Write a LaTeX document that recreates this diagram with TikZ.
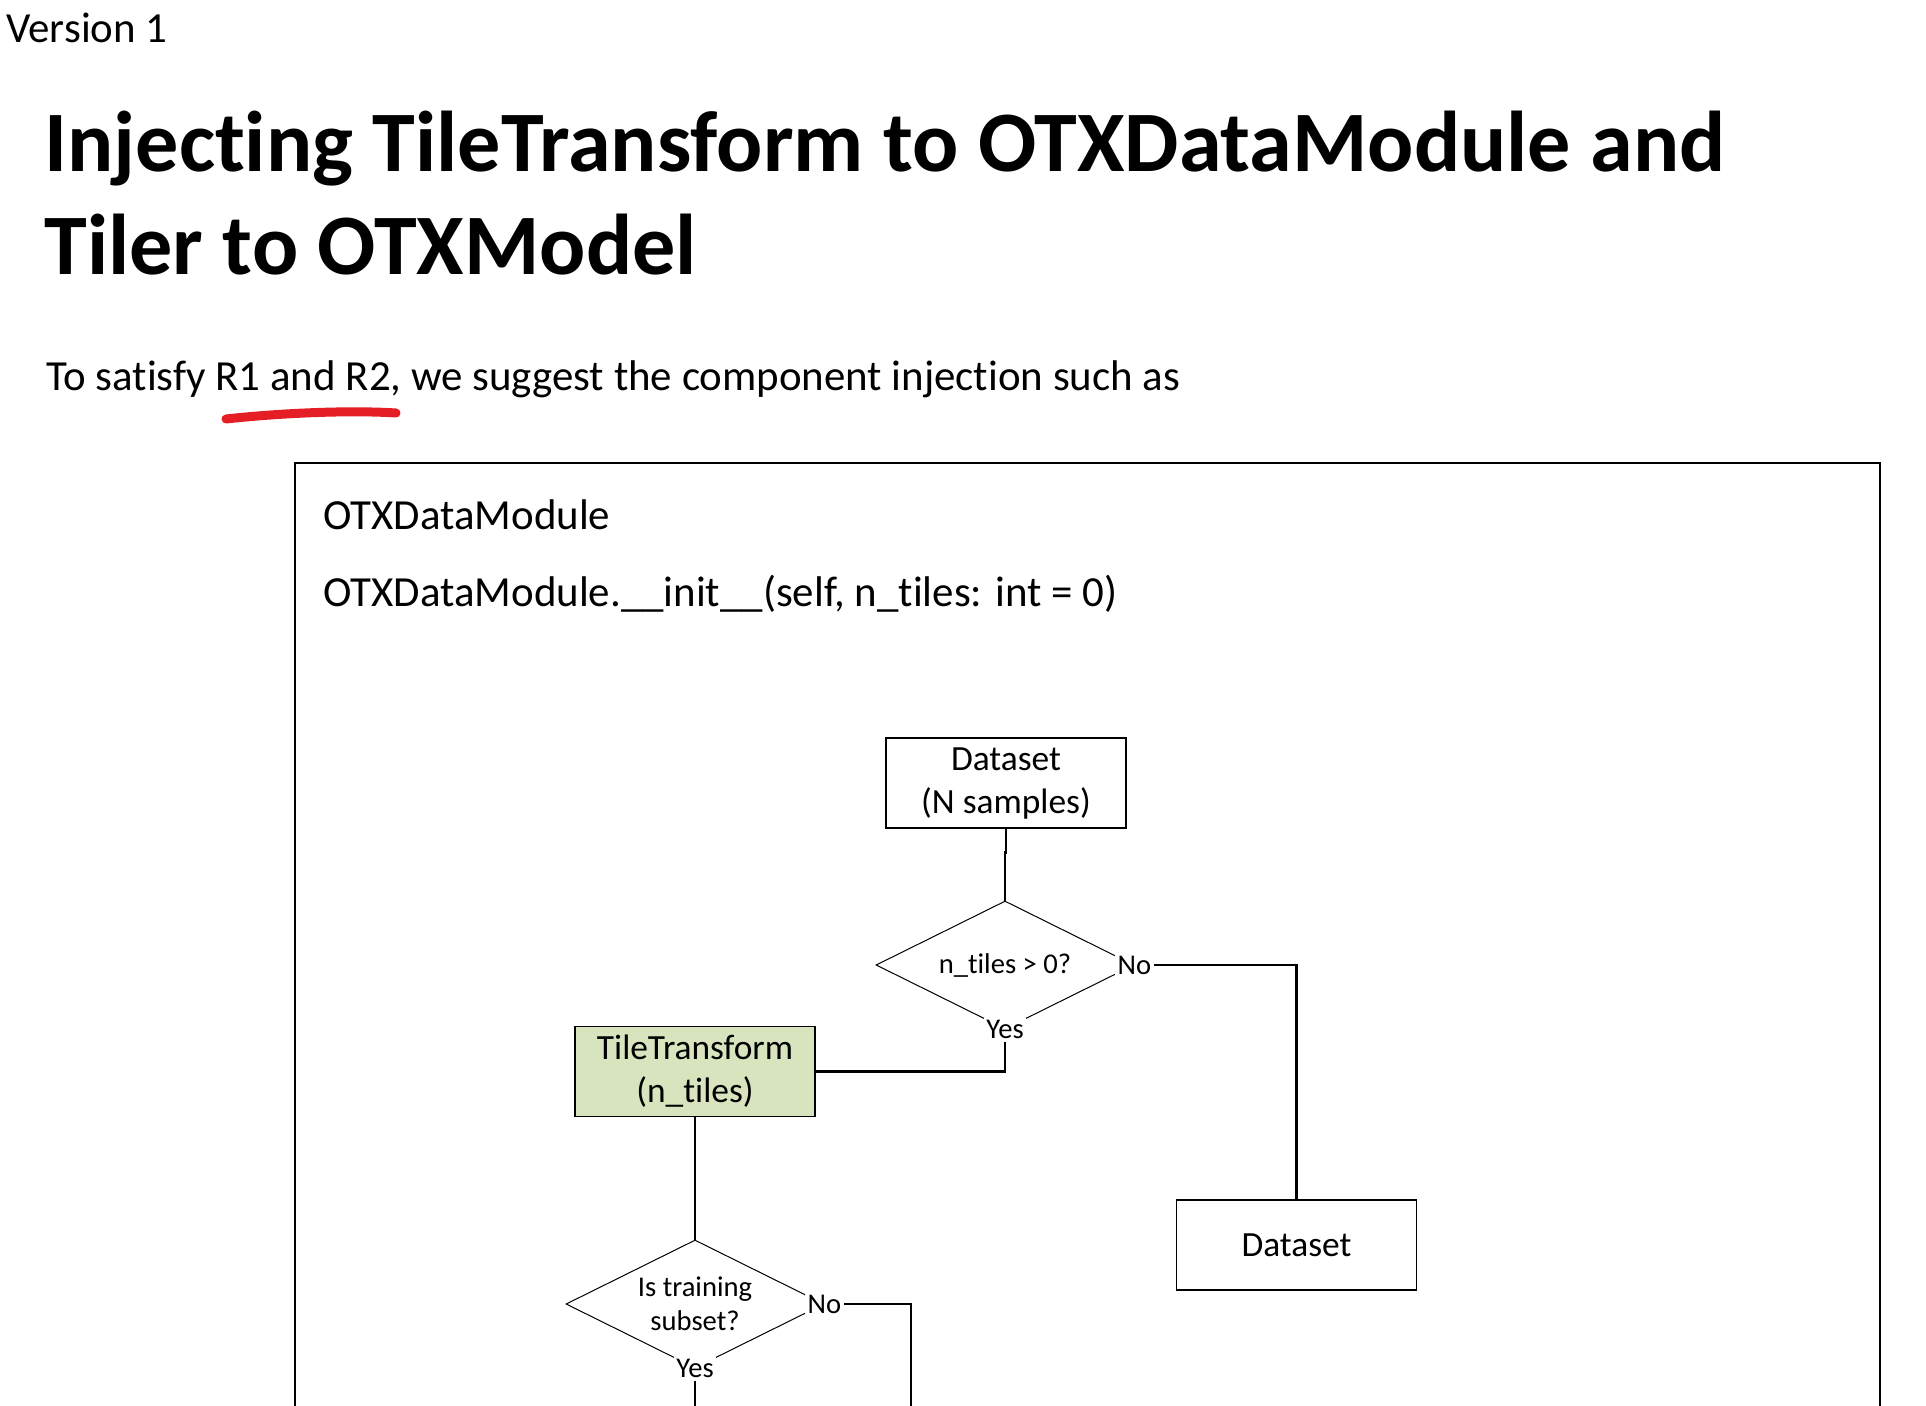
\documentclass[tikz,border=0pt]{standalone}
\usepackage{fontspec}
\setmainfont{Carlito}[Ligatures=NoCommon]
\usetikzlibrary{shapes.geometric}
\definecolor{penred}{RGB}{228,30,36}
\definecolor{tilegreen}{HTML}{D7E4BD}
\tikzset{
  bodytext/.style={anchor=base west, inner sep=0pt, font=\fontsize{21.45}{25.5}\selectfont},
  titletext/.style={anchor=base west, inner sep=0pt, font=\fontsize{43.1}{51.5}\selectfont\bfseries},
  procbox/.style={draw, line width=0.65pt, minimum width=120pt, minimum height=45pt, inner sep=0pt,
    align=center, font=\fontsize{17.7}{21.5}\selectfont},
  decide/.style={draw, diamond, shape aspect=2, line width=0.5pt, minimum width=129pt, minimum height=64pt, inner sep=0pt,
    align=center, font=\fontsize{14.3}{17}\selectfont},
  branch/.style={fill=white, inner sep=1.2pt, font=\fontsize{14.3}{17}\selectfont},
  conn/.style={line width=1.35pt},
  frame/.style={line width=0.7pt}
}
\begin{document}
\begin{tikzpicture}[x=0.5pt,y=-0.5pt]
\useasboundingbox (0,0) rectangle (1926,1406);
% header texts
\node[bodytext] (ver) at (6,43) {Version 1};
\node[titletext] (title1) at (44,172) {Injecting TileTransform to OTXDataModule and};
\node[titletext] (title2) at (44,275) {Tiler to OTXModel};
\node[bodytext] (intro) at (46,391) {To satisfy R1 and R2, we suggest the component injection such as};
\draw[penred, line width=4.5pt, line cap=round] (226,419) .. controls (280,413) and (350,410) .. (396,413);
% frame
\coordinate (fbl) at (295,1412);
\coordinate (fbr) at (1880,1412);
\draw[frame] (fbl) |- (1880,463) -- (fbr);
\node[bodytext] (dmname) at (323,530) {OTXDataModule};
\node[bodytext] (dminit) at (323,606) {OTXDataModule.\_\_init\_\_(self, n\_tiles: int = 0)};
% flow
\node[procbox] (ds1) at (1006,783) {Dataset\\(N samples)};
\node[decide] (d1) at (1005,965) {n\_tiles > 0?};
\node[branch] (no1) at (d1.east) {No};
\node[branch] (yes1) at (d1.south) {Yes};
\node[procbox, fill=tilegreen] (tt) at (695,1071.5) {TileTransform\\(n\_tiles)};
\node[procbox] (ds2) at (1296.5,1245) {Dataset};
\node[decide] (d2) at (695,1304) {Is training\\subset?};
\node[branch] (no2) at (d2.east) {No};
\node[branch] (yes2) at (d2.south) {Yes};
\coordinate (end1) at (911,1412);
\coordinate (end2) at (695,1412);
\draw[conn] (ds1.south) -- ++(0,24) -| (d1.north);
\draw[conn] (no1.east) -| (ds2.north);
\draw[conn] (yes1.south) |- (tt.east);
\draw[conn] (tt.south) -- (d2.north);
\draw[conn] (no2.east) -| (end1);
\draw[conn] (yes2.south) -- (end2);
\end{tikzpicture}
\end{document}
